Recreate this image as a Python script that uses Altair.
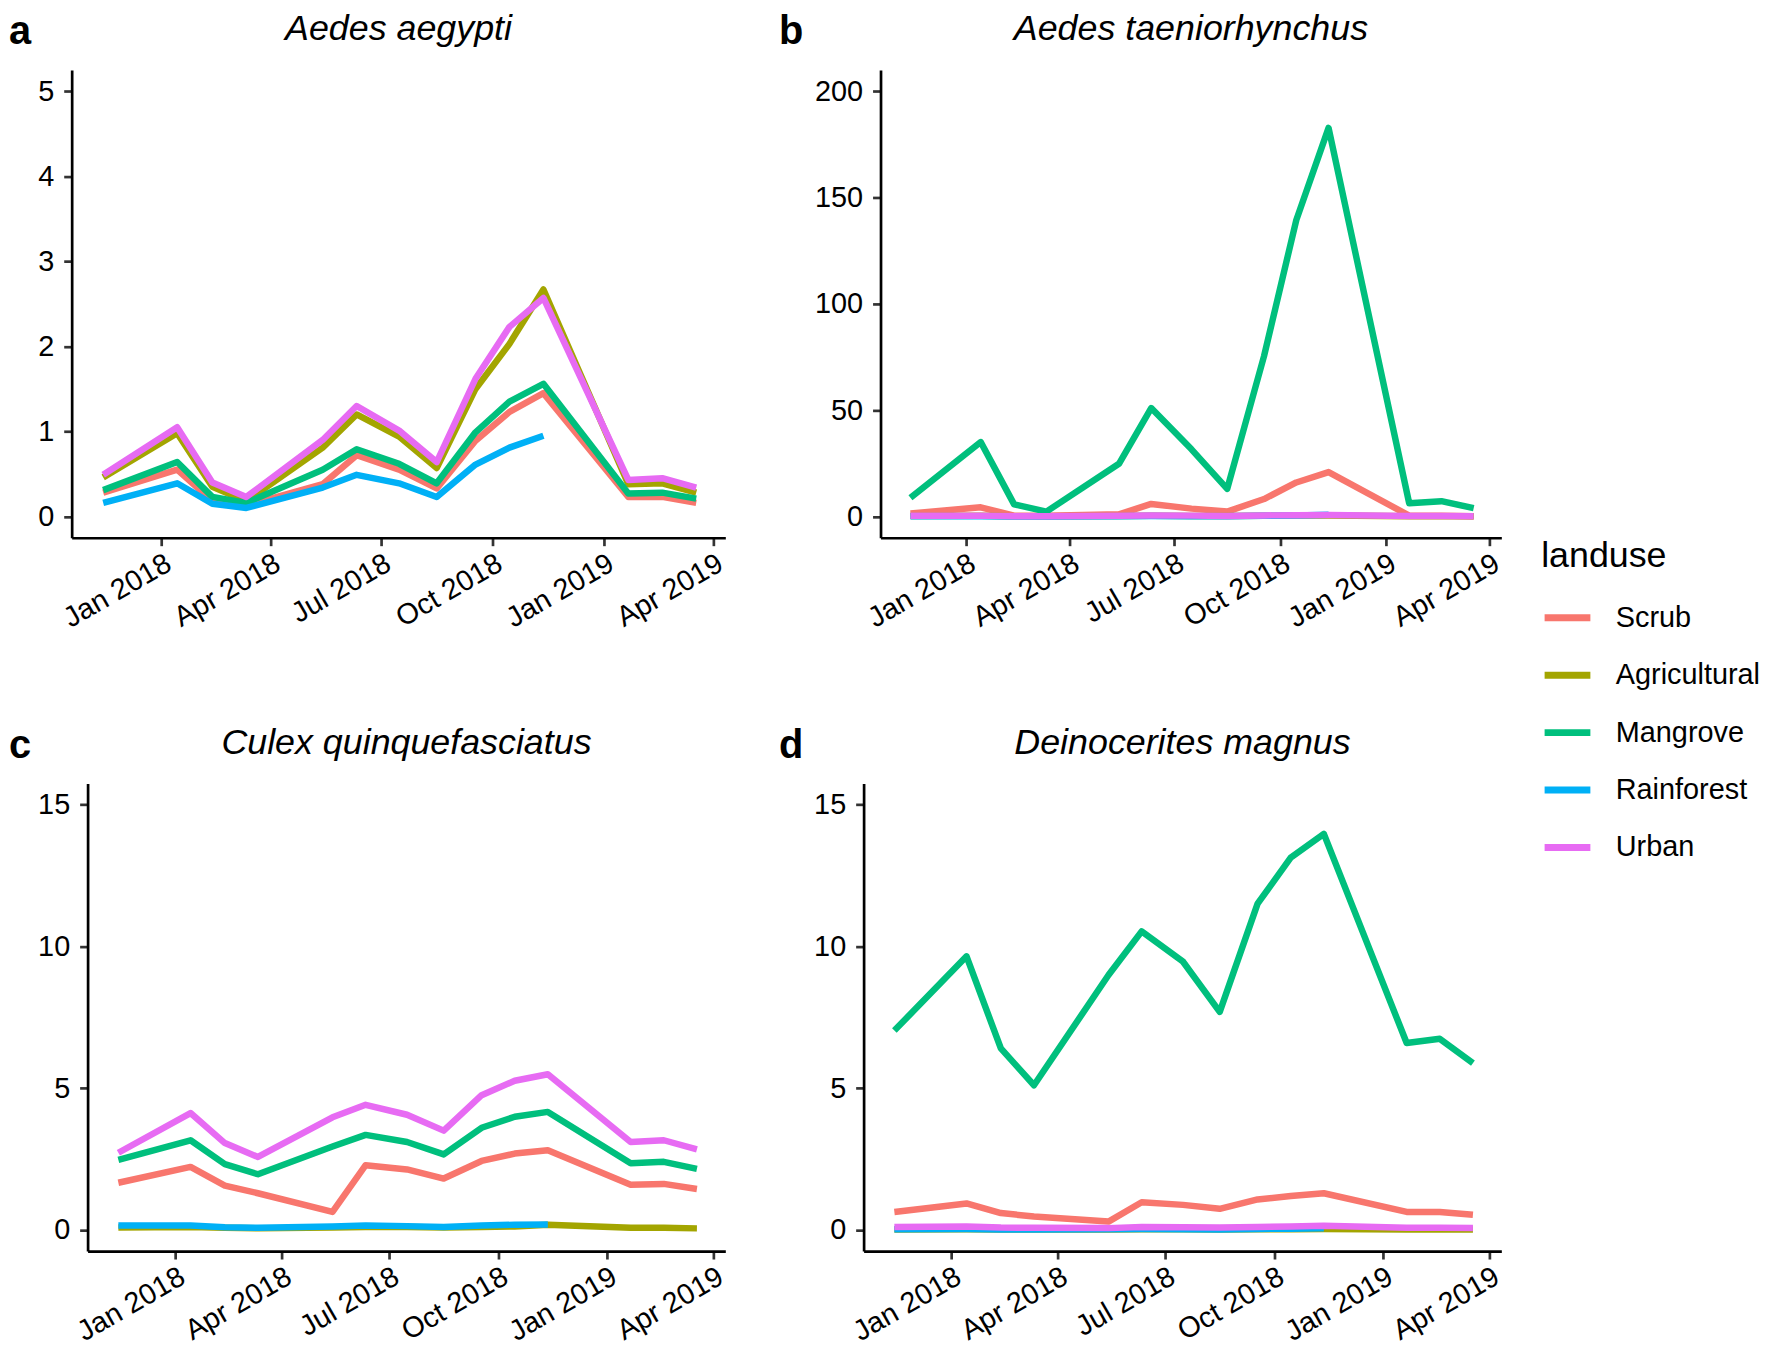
import altair as alt
import pandas as pd

# ---------------- data ----------------
DATES = ["2017-11-14", "2018-01-14", "2018-02-12", "2018-03-12", "2018-05-14",
         "2018-06-11", "2018-07-16", "2018-08-16", "2018-09-17", "2018-10-15",
         "2018-11-12", "2019-01-21", "2019-02-18", "2019-03-18"]

LANDUSE = ["Scrub", "Agricultural", "Mangrove", "Rainforest", "Urban"]
COLORS = ["#F8766D", "#A3A500", "#00BF7D", "#00B0F6", "#E76BF3"]

# a: Aedes aegypti
A_SCRUB = [0.28, 0.55, 0.18, 0.13, 0.38, 0.72, 0.55, 0.33, 0.89, 1.23, 1.45, 0.23, 0.23, 0.16]
A_AGRI = [0.46, 0.98, 0.35, 0.18, 0.81, 1.20, 0.94, 0.57, 1.50, 2.03, 2.67, 0.38, 0.39, 0.28]
A_MANG = [0.31, 0.64, 0.23, 0.16, 0.55, 0.79, 0.62, 0.39, 0.99, 1.35, 1.56, 0.27, 0.28, 0.21]
A_RAIN = [0.16, 0.39, 0.15, 0.10, 0.34, 0.49, 0.39, 0.23, 0.61, 0.81, 0.95, None, None, None]
A_URB = [0.49, 1.05, 0.40, 0.23, 0.90, 1.30, 1.01, 0.64, 1.62, 2.23, 2.57, 0.43, 0.45, 0.34]

# b: Aedes taeniorhynchus
B_SCRUB = [1.4, 4.3, 0.4, 0.4, 1.0, 5.9, 3.7, 2.3, 8.2, 16.0, 20.9, 0.4, 0.4, 0.1]
B_AGRI = [0.2, 0.3, 0.1, 0.1, 0.2, 0.3, 0.2, 0.2, 0.3, 0.4, 0.5, 0.1, 0.1, 0.1]
B_MANG = [8.8, 35.0, 5.7, 2.3, 24.8, 51.0, 31.6, 13.0, 75.5, 139.5, 182.8, 6.2, 7.2, 3.9]
B_RAIN = [0.1, 0.1, 0.0, 0.0, 0.1, 0.2, 0.1, 0.1, 0.3, 0.5, 0.8, None, None, None]
B_URB = [0.3, 0.4, 0.1, 0.1, 0.3, 0.5, 0.4, 0.2, 0.5, 0.6, 0.7, 0.2, 0.2, 0.1]

# c: Culex quinquefasciatus
C_SCRUB = [1.66, 2.22, 1.56, 1.29, 0.63, 2.28, 2.13, 1.81, 2.43, 2.69, 2.81, 1.59, 1.62, 1.44]
C_AGRI = [0.08, 0.10, 0.07, 0.05, 0.08, 0.10, 0.10, 0.08, 0.10, 0.12, 0.18, 0.07, 0.07, 0.05]
C_MANG = [2.47, 3.16, 2.32, 1.96, 2.94, 3.35, 3.10, 2.66, 3.60, 3.99, 4.16, 2.35, 2.40, 2.15]
C_RAIN = [0.15, 0.15, 0.09, 0.07, 0.12, 0.15, 0.13, 0.10, 0.15, 0.18, 0.19, None, None, None]
C_URB = [2.72, 4.12, 3.06, 2.57, 3.97, 4.41, 4.06, 3.50, 4.75, 5.26, 5.49, 3.10, 3.16, 2.84]

# d: Deinocerites magnus
D_SCRUB = [0.63, 0.93, 0.59, 0.47, 0.29, 0.97, 0.88, 0.74, 1.07, 1.19, 1.29, 0.63, 0.63, 0.53]
D_AGRI = [0.01, 0.02, 0.01, 0.01, 0.01, 0.02, 0.02, 0.01, 0.02, 0.02, 0.03, 0.01, 0.01, 0.01]
D_MANG = [7.03, 9.65, 6.40, 5.10, 8.99, 10.53, 9.46, 7.69, 11.51, 13.13, 13.97, 6.59, 6.74, 5.88]
D_RAIN = [0.02, 0.03, 0.01, 0.01, 0.02, 0.03, 0.02, 0.01, 0.03, 0.04, 0.05, None, None, None]
D_URB = [0.10, 0.12, 0.08, 0.07, 0.06, 0.10, 0.09, 0.08, 0.10, 0.12, 0.14, 0.07, 0.07, 0.06]

X_TICKS = [(2018, 1), (2018, 4), (2018, 7), (2018, 10), (2019, 1), (2019, 4)]

FONT = "Liberation Sans"
PLOT_H = 470

color = alt.Color(
    "landuse:N",
    scale=alt.Scale(domain=LANDUSE, range=COLORS),
    legend=alt.Legend(
        title="landuse", orient="none", legendX=1541, legendY=471,
        symbolType="stroke", symbolStrokeWidth=7, symbolSize=2116,
        labelFontSize=29, labelFont=FONT, labelColor="black",
        titleFontSize=36, titleFont=FONT, titleFontWeight="normal", titleColor="black",
        labelOffset=22, rowPadding=15.7, titlePadding=17, padding=0,
    ),
)


def invisible(xpos):
    return alt.Chart(pd.DataFrame({"t": ["."]})).mark_text(
        fontSize=1, opacity=0, align="left"
    ).encode(text="t:N", x=alt.value(xpos), y=alt.value(0))


def panel(letter, species, series, ymax, yticks, width, letter_dx, right_ext):
    rows = []
    for lu, vals in zip(LANDUSE, series):
        for d, v in zip(DATES, vals):
            if v is not None:
                rows.append({"date": d, "landuse": lu, "value": v})
    df = pd.DataFrame(rows)

    x = alt.X(
        "date:T",
        scale=alt.Scale(
            type="utc",
            domain=[alt.DateTime(year=2017, month=10, date=19, utc=True),
                    alt.DateTime(year=2019, month=4, date=11, utc=True)],
        ),
        axis=alt.Axis(
            values=[alt.DateTime(year=yy, month=mm, date=1, utc=True) for yy, mm in X_TICKS],
            labelExpr="utcFormat(datum.value, '%b %Y')",
            labelAngle=330, labelAlign="right", labelBaseline="top",
            labelPadding=3, labelFlush=False, labelOverlap=False, title=None,
        ),
    )
    y = alt.Y(
        "value:Q",
        scale=alt.Scale(domain=[-0.05 * ymax, 1.05 * ymax], nice=False, zero=False),
        axis=alt.Axis(values=yticks, title=None, labelPadding=10,
                      labelFlush=False, labelOverlap=False),
    )
    layers = []
    for lu in LANDUSE:
        layers.append(
            alt.Chart(df)
            .transform_filter(alt.datum.landuse == lu)
            .mark_line(strokeWidth=6.5, strokeJoin="round", strokeCap="butt")
            .encode(x=x, y=y, color=color)
        )
    title = alt.Chart(pd.DataFrame({"t": [species]})).mark_text(
        font=FONT, fontSize=36, fontStyle="italic", align="center",
        baseline="top", color="black",
    ).encode(text="t:N", x=alt.value(width / 2), y=alt.value(-58))
    lab = alt.Chart(pd.DataFrame({"t": [letter]})).mark_text(
        font=FONT, fontSize=40, fontWeight="bold", align="left",
        baseline="top", color="black",
    ).encode(text="t:N", x=alt.value(letter_dx), y=alt.value(-58))
    parts = layers + [title, lab]
    if right_ext:
        parts.append(invisible(right_ext))
    return alt.layer(*parts).properties(width=width, height=PLOT_H)


def spacer():
    return invisible(0).properties(width=1, height=1)


pa = panel("a", "Aedes aegypti", [A_SCRUB, A_AGRI, A_MANG, A_RAIN, A_URB],
           5, [0, 1, 2, 3, 4, 5], 657, -63, 710)
pb = panel("b", "Aedes taeniorhynchus", [B_SCRUB, B_AGRI, B_MANG, B_RAIN, B_URB],
           200, [0, 50, 100, 150, 200], 624, -102, None)
pc = panel("c", "Culex quinquefasciatus", [C_SCRUB, C_AGRI, C_MANG, C_RAIN, C_URB],
           15, [0, 5, 10, 15], 641, -79, 694)
pd_ = panel("d", "Deinocerites magnus", [D_SCRUB, D_AGRI, D_MANG, D_RAIN, D_URB],
            15, [0, 5, 10, 15], 641, -85, None)

row1 = alt.hconcat(spacer(), pa, pb, spacing=0)
row2 = alt.hconcat(spacer(), pc, pd_, spacing=0)

chart = (
    alt.vconcat(row1, row2, spacing=92)
    .properties(padding=0)
    .configure_view(stroke=None)
    .configure_axis(
        domainColor="black", domainWidth=2.7, tickColor="#333333", tickWidth=2.7,
        tickSize=8, labelFont=FONT, labelFontSize=29, labelColor="black", grid=False,
    )
)

chart.save("out.html", embed_options={"renderer": "svg", "actions": False})
